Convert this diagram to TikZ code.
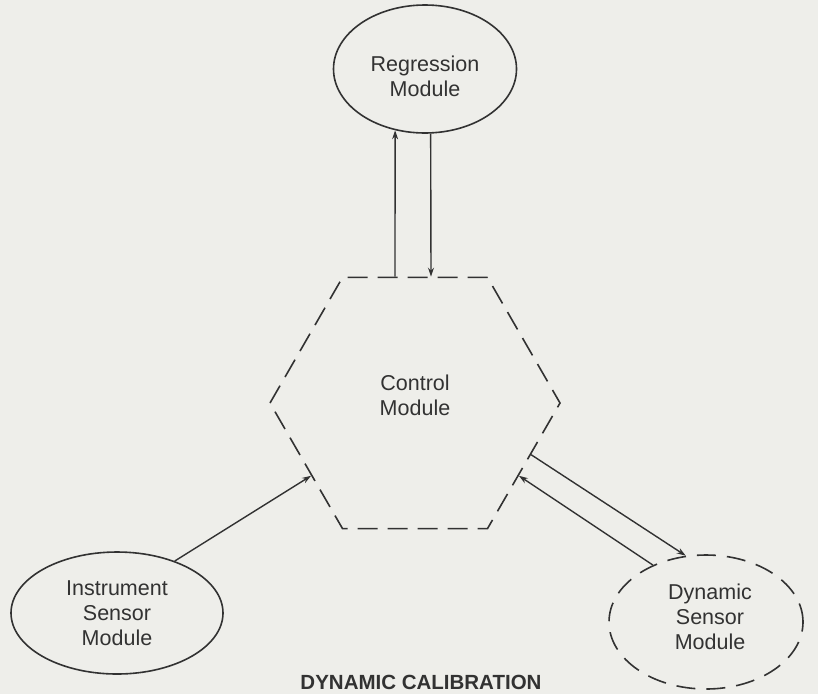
\documentclass[tikz,border=0pt]{standalone}
\usepackage{fontspec}
\setmainfont{Liberation Sans}
\usetikzlibrary{shapes.geometric,arrows.meta}
\definecolor{bg}{RGB}{238,238,234}
\definecolor{ink}{RGB}{50,50,50}
\tikzset{
  lbl/.style={font=\fontsize{21.5}{25}\selectfont, text=ink, align=center},
  solidell/.style={ellipse, draw=ink, line width=1.6pt, inner sep=0pt},
  dashell/.style={ellipse, draw=ink, line width=1.6pt, inner sep=0pt, dash pattern=on 19pt off 11pt},
  hexbox/.style={regular polygon, regular polygon sides=6, draw=ink, line width=1.6pt, inner sep=0pt, minimum size=290pt, dash pattern=on 20pt off 10pt},
  arr/.style={draw=ink, line width=1.4pt, -{Stealth[length=9pt,width=6pt]}}
}
\begin{document}
\begin{tikzpicture}[x=1pt,y=-1pt]
\fill[bg] (0,0) rectangle (818,694);
\useasboundingbox (0,0) rectangle (818,694);
\node[solidell, minimum width=183pt, minimum height=128pt,
  label={[lbl, yshift=-7pt]center:Regression\\Module}] (reg) at (425,69) {};
\node[hexbox, label={[lbl, yshift=8pt]center:Control\\Module}] (hex) at (415,403) {};
\node[solidell, minimum width=212pt, minimum height=122pt,
  label={[lbl]center:Instrument\\Sensor\\Module}] (ins) at (117,613) {};
\node[dashell, minimum width=194pt, minimum height=134pt,
  label={[lbl, yshift=5pt, xshift=4pt]center:Dynamic\\Sensor\\Module}] (dyn) at (706,622) {};
\node[font=\fontsize{20.5}{24}\selectfont\bfseries, text=ink] (title) at (421,682) {DYNAMIC CALIBRATION};
\draw[arr] (hex.north -| 395,0) -- (reg.-116);
\draw[arr] (reg.-85) -- (hex.north -| 431,0);
\draw[arr] (ins.42) -- (hex.215);
\draw[arr] (hex.-24) -- (dyn.107);
\draw[arr] (dyn.133) -- (hex.-35);
\end{tikzpicture}
\end{document}
